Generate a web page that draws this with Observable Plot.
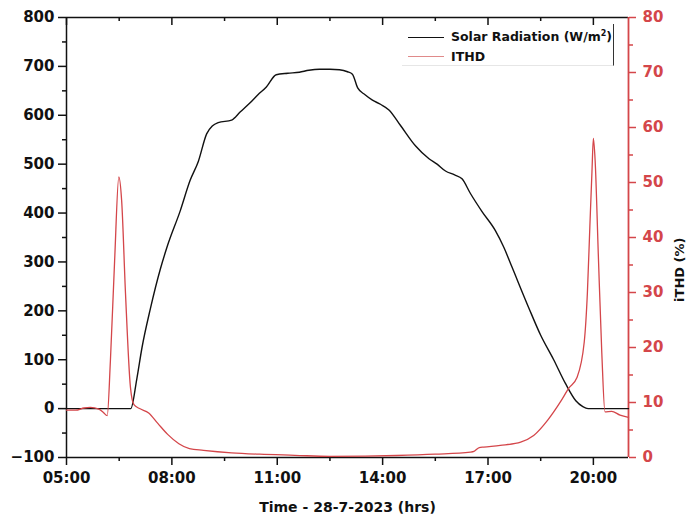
<!DOCTYPE html>
<html>
<head>
<meta charset="utf-8">
<script src="https://cdn.jsdelivr.net/npm/d3@7"></script>
<script src="https://cdn.jsdelivr.net/npm/@observablehq/plot@0.6"></script>
<style>
  body { margin: 0; background: #fff; }
  #wrap { position: relative; width: 690px; height: 524px; }
  #legend { position: absolute; left: 402px; top: 24px; width: 211px; height: 41px;
            border-right: 1.5px solid #333; border-bottom: 1px solid #e6e6e6;
            font: bold 12.5px "DejaVu Sans", sans-serif; color: #111; }
  .row { position: absolute; left: 6px; height: 16px; display: flex; align-items: center; white-space: nowrap; }
  .sw { width: 36px; height: 0; margin-right: 7px; }
</style>
</head>
<body>
<div id="wrap">
  <div id="chart"></div>
  <div id="legend"></div>
</div>
<script>
// ---- data ----
const solarHours = [5.0, 6.83, 7.0, 7.15, 7.39, 7.67, 7.86, 8.24, 8.52, 8.75, 8.99, 9.15, 9.32, 9.70, 9.95,
  10.22, 10.45, 10.69, 10.97, 11.3, 11.63, 11.9, 12.2, 12.5, 12.77, 13.0, 13.14, 13.29, 13.5, 13.71, 13.95,
  14.18, 14.52, 14.94, 15.32, 15.55, 15.79, 16.05, 16.26, 16.5, 16.83, 17.21, 17.45, 17.68, 18.15, 18.5,
  18.87, 19.2, 19.5, 19.7, 19.85, 21.0];
const solarRadiation = [0, 0, 60, 125, 205, 285, 330, 405, 467, 505, 562, 578, 585, 590, 607,
  625, 642, 658, 683, 686, 688, 692, 694, 694, 693, 689, 684, 656, 642, 631, 622,
  611, 578, 537, 511, 500, 486, 478, 470, 440, 403, 364, 330, 290, 208, 150,
  100, 52, 16, 4, 0, 0];

const ithdHours = [5.0, 5.26, 5.5, 5.68, 5.92, 6.05, 6.16, 6.25, 6.37, 6.49, 6.57, 6.68, 6.82, 6.92, 7.08,
  7.34, 7.6, 7.88, 8.2, 8.5, 8.9, 9.7, 10.5, 11.5, 12.5, 13.5, 14.4, 15.5, 16.5, 16.6, 16.75, 16.88,
  17.35, 17.93, 18.3, 18.7, 19.07, 19.3, 19.53, 19.74, 19.83, 19.9, 19.96, 20.0, 20.05, 20.14, 20.24,
  20.33, 20.52, 20.76, 21.0];
const ithdPercent = [8.6, 8.6, 9.0, 9.1, 8.8, 8.2, 7.6, 17.6, 35.8, 51.0, 46.7, 29.8, 12.8, 9.6, 8.9,
  8.1, 6.2, 4.2, 2.5, 1.6, 1.3, 0.85, 0.6, 0.4, 0.2, 0.25, 0.36, 0.6, 0.97, 1.1, 1.8, 1.9,
  2.2, 2.8, 4.0, 6.8, 10.2, 12.6, 14.5, 21, 30, 42, 52, 58, 54, 37, 19,
  8.3, 8.4, 7.7, 7.3];

const xTicks = [5, 8, 11, 14, 17, 20];
const xMinorTicks = [6.5, 9.5, 12.5, 15.5, 18.5];
const leftTicks = d3.range(-100, 801, 100);
const leftMinorTicks = d3.range(-50, 800, 100);
const rightTicks = d3.range(0, 81, 10);
const rightMinorTicks = d3.range(5, 80, 10);

const xTitle = "Time - 28-7-2023 (hrs)";
const rightTitle = "iTHD (%)";
const legendLabels = ["Solar Radiation (W/m²)", "ITHD"];

// ---- helpers ----
const RED = "#d4464a";
const BLACK = "#111";
const leftDomain = [-100, 800];
const rightDomain = [0, 80];
const toLeft = p => leftDomain[0] + (p - rightDomain[0]) * (leftDomain[1] - leftDomain[0]) / (rightDomain[1] - rightDomain[0]);
const toRight = v => rightDomain[0] + (v - leftDomain[0]) * (rightDomain[1] - rightDomain[0]) / (leftDomain[1] - leftDomain[0]);
const fmtHour = h => String(h).padStart(2, "0") + ":00";

const solarData = solarHours.map((h, i) => ({h, v: solarRadiation[i]}));
const ithdData = ithdHours.map((h, i) => ({h, v: toLeft(ithdPercent[i])}));

const chart = Plot.plot({
  width: 690, height: 524,
  marginTop: 17, marginBottom: 67, marginLeft: 66, marginRight: 62,
  style: {fontFamily: "'DejaVu Sans', sans-serif", fontWeight: "bold", fontSize: "15px", color: BLACK, background: "#fff", overflow: "visible"},
  x: {domain: [5, 21]},
  y: {domain: leftDomain},
  marks: [
    // bottom axis
    Plot.axisX({ticks: xTicks, tickFormat: fmtHour, tickSize: 8, tickPadding: 7, label: null, strokeWidth: 1.5}),
    Plot.axisX({ticks: xMinorTicks, tickFormat: () => "", tickSize: 4, label: null, strokeWidth: 1.5}),
    // top mirror ticks (inward)
    Plot.ruleX(xTicks, {x: d => d, insetBottom: 432, stroke: BLACK, strokeWidth: 1.5}),
    Plot.ruleX(xMinorTicks, {x: d => d, insetBottom: 436, stroke: BLACK, strokeWidth: 1.5}),
    // left axis
    Plot.axisY({ticks: leftTicks, anchor: "left", tickSize: 8, tickPadding: 4, label: null, strokeWidth: 1.5}),
    Plot.axisY({ticks: leftMinorTicks, anchor: "left", tickSize: 4, tickFormat: () => "", label: null, strokeWidth: 1.5}),
    // right axis (iTHD %)
    Plot.axisY(rightTicks.map(toLeft), {anchor: "right", tickFormat: v => Math.round(toRight(v)), color: RED, tickSize: 7, tickPadding: 7, label: null, strokeWidth: 1.5}),
    Plot.axisY(rightMinorTicks.map(toLeft), {anchor: "right", tickFormat: () => "", color: RED, tickSize: 4, label: null, strokeWidth: 1.5}),
    // frame
    Plot.ruleY([leftDomain[0]], {stroke: BLACK, strokeWidth: 1.5}),
    Plot.ruleY([leftDomain[1]], {stroke: BLACK, strokeWidth: 1.5}),
    Plot.ruleX([5], {stroke: BLACK, strokeWidth: 1.5}),
    Plot.ruleX([21], {stroke: RED, strokeWidth: 1.8}),
    // data
    Plot.line(solarData, {x: "h", y: "v", stroke: BLACK, strokeWidth: 1.4, curve: "monotone-x"}),
    Plot.line(ithdData, {x: "h", y: "v", stroke: RED, strokeWidth: 1.3, curve: "monotone-x"}),
    // titles
    Plot.text([xTitle], {frameAnchor: "bottom", dy: 54, text: d => d, fontSize: 14, fontWeight: "bold", fill: BLACK}),
    Plot.text([rightTitle], {frameAnchor: "right", dx: 51, rotate: -90, text: d => d, fontSize: 13, fontWeight: "bold", fill: BLACK})
  ]
});
document.getElementById("chart").appendChild(chart);

// legend
const legend = document.getElementById("legend");
const colors = [BLACK, "#e08a8a"];
legendLabels.forEach((lab, i) => {
  const row = document.createElement("div");
  row.className = "row";
  row.style.top = (i === 0 ? 5 : 24) + "px";
  const sw = document.createElement("span");
  sw.className = "sw";
  sw.style.borderTop = (i === 0 ? "1.3px" : "1.6px") + " solid " + colors[i];
  const t = document.createElement("span");
  if (lab.includes("²")) {
    const parts = lab.split("²");
    t.textContent = parts[0];
    const sup = document.createElement("sup");
    sup.textContent = "2";
    sup.style.fontSize = "8px";
    t.appendChild(sup);
    t.appendChild(document.createTextNode(parts[1]));
  } else {
    t.textContent = lab;
  }
  row.appendChild(sw);
  row.appendChild(t);
  legend.appendChild(row);
});
</script>
</body>
</html>
